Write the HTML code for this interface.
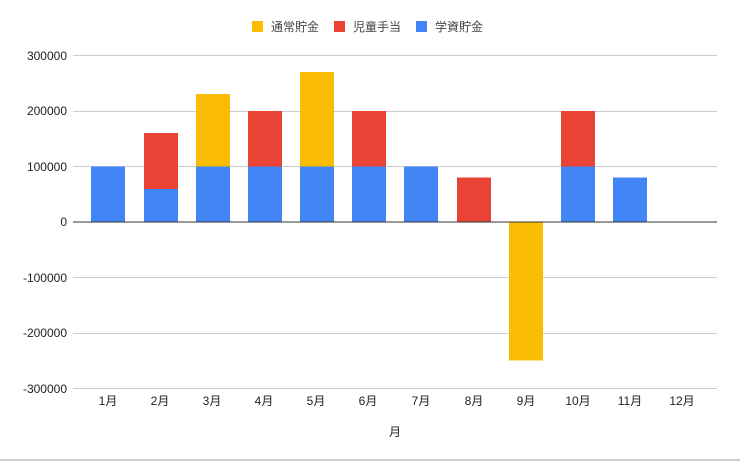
<!DOCTYPE html><html><head><meta charset="utf-8"><style>body{margin:0;background:#fff}</style></head><body>
<svg width="740" height="461" xmlns="http://www.w3.org/2000/svg" font-family="'Liberation Sans','Noto Sans CJK JP',sans-serif">
<rect width="740" height="461" fill="#fff"/>
<line x1="0" y1="460" x2="740" y2="460" stroke="#999" stroke-width="1"/>
<g font-size="12" fill="#444">
<rect x="252" y="21" width="11" height="11" fill="#fbbc04"/><text x="271" y="31">通常貯金</text>
<rect x="334" y="21" width="11" height="11" fill="#ea4335"/><text x="353" y="31">児童手当</text>
<rect x="416" y="21" width="11" height="11" fill="#4285f4"/><text x="435" y="31">学資貯金</text>
</g>
<g stroke="#ccc" stroke-width="1">
<line x1="73" y1="55.5" x2="717" y2="55.5"/><line x1="73" y1="111.5" x2="717" y2="111.5"/><line x1="73" y1="166.5" x2="717" y2="166.5"/>
<line x1="73" y1="277.5" x2="717" y2="277.5"/><line x1="73" y1="333.5" x2="717" y2="333.5"/><line x1="73" y1="388.5" x2="717" y2="388.5"/>
</g>
<g font-size="12" fill="#222" text-anchor="end">
<text x="67" y="60">300000</text><text x="67" y="115">200000</text><text x="67" y="171">100000</text><text x="67" y="226">0</text>
<text x="67" y="282">-100000</text><text x="67" y="337">-200000</text><text x="67" y="393">-300000</text>
</g>
<g>
<rect x="91" y="166.5" width="34" height="55.5" fill="#4285f4"/>
<rect x="144" y="189" width="34" height="33" fill="#4285f4"/><rect x="144" y="133" width="34" height="56" fill="#ea4335"/>
<rect x="196" y="166.5" width="34" height="55.5" fill="#4285f4"/><rect x="196" y="94" width="34" height="72.5" fill="#fbbc04"/>
<rect x="248" y="166.5" width="34" height="55.5" fill="#4285f4"/><rect x="248" y="111" width="34" height="55.5" fill="#ea4335"/>
<rect x="300" y="166.5" width="34" height="55.5" fill="#4285f4"/><rect x="300" y="72" width="34" height="94.5" fill="#fbbc04"/>
<rect x="352" y="166.5" width="34" height="55.5" fill="#4285f4"/><rect x="352" y="111" width="34" height="55.5" fill="#ea4335"/>
<rect x="404" y="166.5" width="34" height="55.5" fill="#4285f4"/>
<rect x="457" y="177.5" width="34" height="44.5" fill="#ea4335"/>
<rect x="509" y="222" width="34" height="138.5" fill="#fbbc04"/>
<rect x="561" y="166.5" width="34" height="55.5" fill="#4285f4"/><rect x="561" y="111" width="34" height="55.5" fill="#ea4335"/>
<rect x="613" y="177.5" width="34" height="44.5" fill="#4285f4"/>
</g>
<line x1="73" y1="222" x2="717" y2="222" stroke="#333" stroke-width="1"/>
<g font-size="12" fill="#222" text-anchor="middle">
<text x="108" y="405">1月</text><text x="160" y="405">2月</text><text x="212" y="405">3月</text><text x="264" y="405">4月</text>
<text x="316" y="405">5月</text><text x="368" y="405">6月</text><text x="421" y="405">7月</text><text x="474" y="405">8月</text>
<text x="526" y="405">9月</text><text x="578" y="405">10月</text><text x="630" y="405">11月</text><text x="682" y="405">12月</text>
<text x="395" y="436">月</text>
</g>
</svg>
</body></html>
